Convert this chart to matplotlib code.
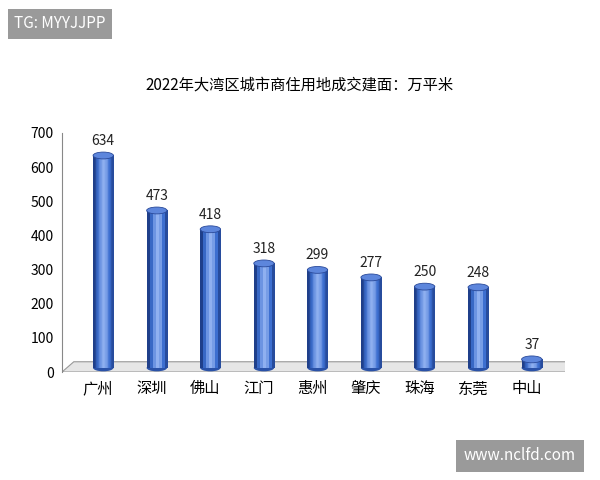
import matplotlib
matplotlib.use("Agg")
import matplotlib.pyplot as plt
import numpy as np
from matplotlib.patches import Ellipse, Polygon

plt.rcParams['font.family'] = ['Noto Sans CJK SC', 'DejaVu Sans']

cities = ["广州", "深圳", "佛山", "江门", "惠州", "肇庆", "珠海", "东莞", "中山"]
values = [634, 473, 418, 318, 299, 277, 250, 248, 37]
yticks = [0, 100, 200, 300, 400, 500, 600, 700]

fig = plt.figure(figsize=(6, 4.8), dpi=100)
ax = fig.add_axes([62/600, 108/480, 503/600, 0.498])
ax.set_xlim(-0.67, 8.72)
ax.set_ylim(0, 700)

# floor
floor = Polygon([(-0.67, 0), (8.72, 0), (8.95, 30), (-0.45, 30)], closed=True,
                facecolor="#e6e6e6", edgecolor="#999999", lw=0.8, zorder=1)
ax.add_patch(floor)
ax.set_ylim(0, 700)

w = 0.38
grad = np.array([[0.0, 0.3, 0.55, 0.7, 0.6, 0.35, 0.1]])
from matplotlib.colors import LinearSegmentedColormap
cmap = LinearSegmentedColormap.from_list("b", ["#1f3f8a", "#3d6fd0", "#8fb0f0"])
for i, v in enumerate(values):
    x0 = i - w/2 + 0.1
    base = 12
    im = ax.imshow(grad, extent=[x0, x0 + w, base, v], aspect="auto", cmap=cmap,
                   vmin=0, vmax=0.7, zorder=3)
    ax.add_patch(Ellipse((x0 + w/2, base), w, 20, facecolor="#2a52a8", zorder=2.9))
    ax.add_patch(Ellipse((x0 + w/2, v), w, 20, facecolor="#5d86dc", edgecolor="#2a4a9a", lw=0.6, zorder=4))
    ax.text(x0 + w/2, v + 22, str(v), ha="center", va="bottom", fontsize=10, color="#222222", zorder=5)

ax.set_xticks(range(len(cities)))
ax.set_xticklabels(cities, fontsize=11)
ax.set_yticks(yticks)
ax.set_yticklabels([str(t) for t in yticks], fontsize=10)
ax.tick_params(length=0, pad=6)
for s in ["top", "right", "bottom"]:
    ax.spines[s].set_visible(False)
ax.spines["left"].set_color("#888888")
ax.set_xlim(-0.67, 8.72)

fig.text(0.5, 1 - 85/480, "2022年大湾区城市商住用地成交建面：万平米", ha="center", va="center", fontsize=11)
fig.text(14/600, 1 - 24/480, "TG: MYYJJPP", ha="left", va="center", fontsize=11, color="white",
         bbox=dict(boxstyle="square,pad=0.4", facecolor="#9a9a9a", edgecolor="none"))
fig.text(520/600, 1 - 456/480, "www.nclfd.com", ha="center", va="center", fontsize=11, color="white",
         bbox=dict(boxstyle="square,pad=0.5", facecolor="#9a9a9a", edgecolor="none"))

fig.savefig("out.png", dpi=100)
